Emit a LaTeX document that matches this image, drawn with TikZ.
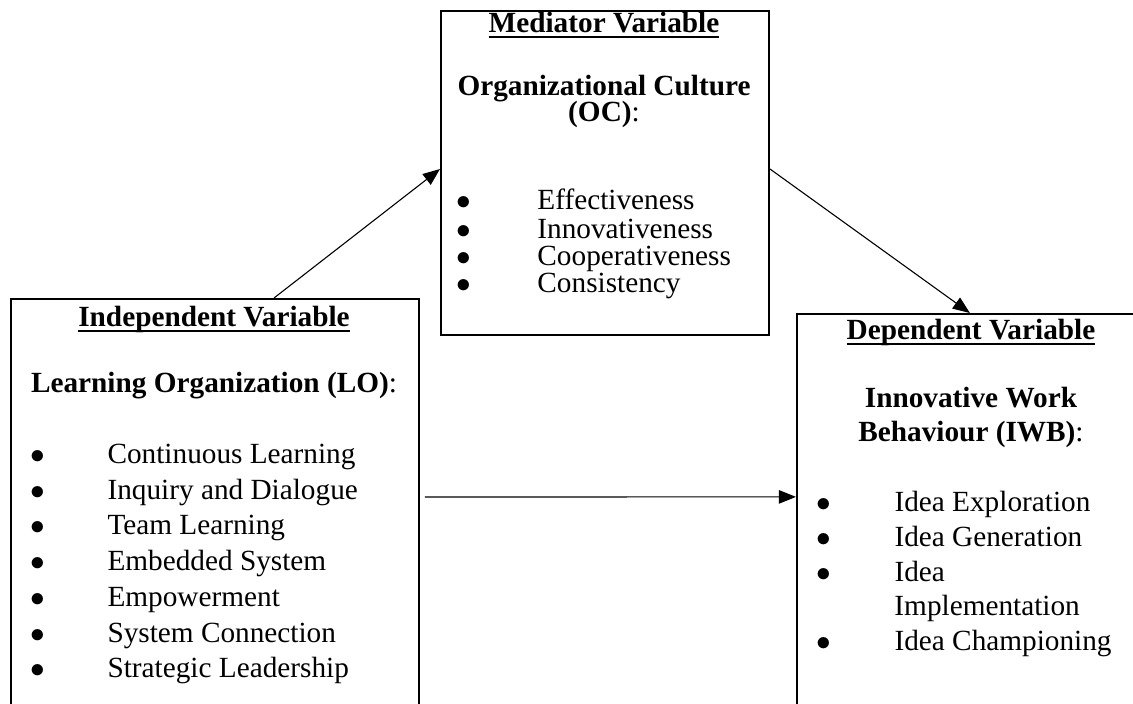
\documentclass[tikz,border=0pt]{standalone}
\usepackage{fontspec}
\setmainfont{Liberation Serif}
\usetikzlibrary{arrows.meta}

% underline set at a fixed depth below the baseline
\newcommand{\ulvar}[1]{\setbox0\hbox{#1}\rlap{\rule[-2.2pt]{\wd0}{0.9pt}}\box0}

\begin{document}
\begin{tikzpicture}[x=0.41pt, y=-0.41pt,
    every node/.style={inner sep=0pt, font=\fontsize{12}{14}\selectfont},
    varbox/.style={draw, line width=0.8pt, anchor=north west},
    vartitle/.style={anchor=base, font=\fontsize{12}{14}\selectfont\bfseries},
    varname/.style={anchor=base},
    bul/.style={anchor=base west},
    link/.style={-{Triangle[length=7pt,width=5.5pt]}, line width=0.45pt}]

    % Page frame (boxes run off the right and bottom edges)
    \useasboundingbox (0,0) rectangle (1133,704);
    \clip (0,0) rectangle (1133,704);

    % The three boxes
    \node[varbox, minimum width=167.3pt, minimum height=189.4pt] (lo) at (10,298) {};
    \node[varbox, minimum width=134.5pt, minimum height=132.8pt] (oc) at (440,10) {};
    \node[varbox, minimum width=143.5pt, minimum height=183.3pt] (iwb) at (796,313) {};

    % Independent variable
    \node[vartitle] (lotitle) at (214,327) {\ulvar{Independent Variable}};
    \node[varname] (loname) at (214,393) {\textbf{Learning Organization (LO)}:};
    \node[bul] (lo1) at (30,464) {\makebox[31.6pt][l]{$\bullet$}Continuous Learning};
    \node[bul] (lo2) at (30,500) {\makebox[31.6pt][l]{$\bullet$}Inquiry and Dialogue};
    \node[bul] (lo3) at (30,535) {\makebox[31.6pt][l]{$\bullet$}Team Learning};
    \node[bul] (lo4) at (30,571) {\makebox[31.6pt][l]{$\bullet$}Embedded System};
    \node[bul] (lo5) at (30,607) {\makebox[31.6pt][l]{$\bullet$}Empowerment};
    \node[bul] (lo6) at (30,643) {\makebox[31.6pt][l]{$\bullet$}System Connection};
    \node[bul] (lo7) at (30,678) {\makebox[31.6pt][l]{$\bullet$}Strategic Leadership};

    % Mediator variable
    \node[vartitle] (octitle) at (604,33) {\ulvar{Mediator Variable}};
    \node[varname] (ocname) at (604,96) {\textbf{Organizational Culture}};
    \node[varname] (ocabbr) at (604,122) {\textbf{(OC)}:};
    \node[bul] (oc1) at (456,210) {\makebox[33.2pt][l]{$\bullet$}Effectiveness};
    \node[bul] (oc2) at (456,239) {\makebox[33.2pt][l]{$\bullet$}Innovativeness};
    \node[bul] (oc3) at (456,266) {\makebox[33.2pt][l]{$\bullet$}Cooperativeness};
    \node[bul] (oc4) at (456,293) {\makebox[33.2pt][l]{$\bullet$}Consistency};

    % Dependent variable
    \node[vartitle] (iwbtitle) at (971,340) {\ulvar{Dependent Variable}};
    \node[varname] (iwbname) at (971,408) {\textbf{Innovative Work}};
    \node[varname] (iwbabbr) at (971,442) {\textbf{Behaviour (IWB)}:};
    \node[bul] (iwb1) at (816,512) {\makebox[32pt][l]{$\bullet$}Idea Exploration};
    \node[bul] (iwb2) at (816,547) {\makebox[32pt][l]{$\bullet$}Idea Generation};
    \node[bul] (iwb3) at (816,582) {\makebox[32pt][l]{$\bullet$}Idea};
    \node[bul] (iwb4) at (894,616) {Implementation};
    \node[bul] (iwb5) at (816,651) {\makebox[32pt][l]{$\bullet$}Idea Championing};

    % Paths between the variables
    \draw[link] ([xshift=24.2pt]lo.north) -- ([yshift=1.6pt]oc.west);
    \draw[link] ([yshift=1.6pt]oc.east) -- ([xshift=71.3pt]iwb.north west);
    \draw[link] ([shift={(2pt,-81.6pt)}]lo.north east) -- ([yshift=-75.4pt]iwb.north west);
\end{tikzpicture}
\end{document}
